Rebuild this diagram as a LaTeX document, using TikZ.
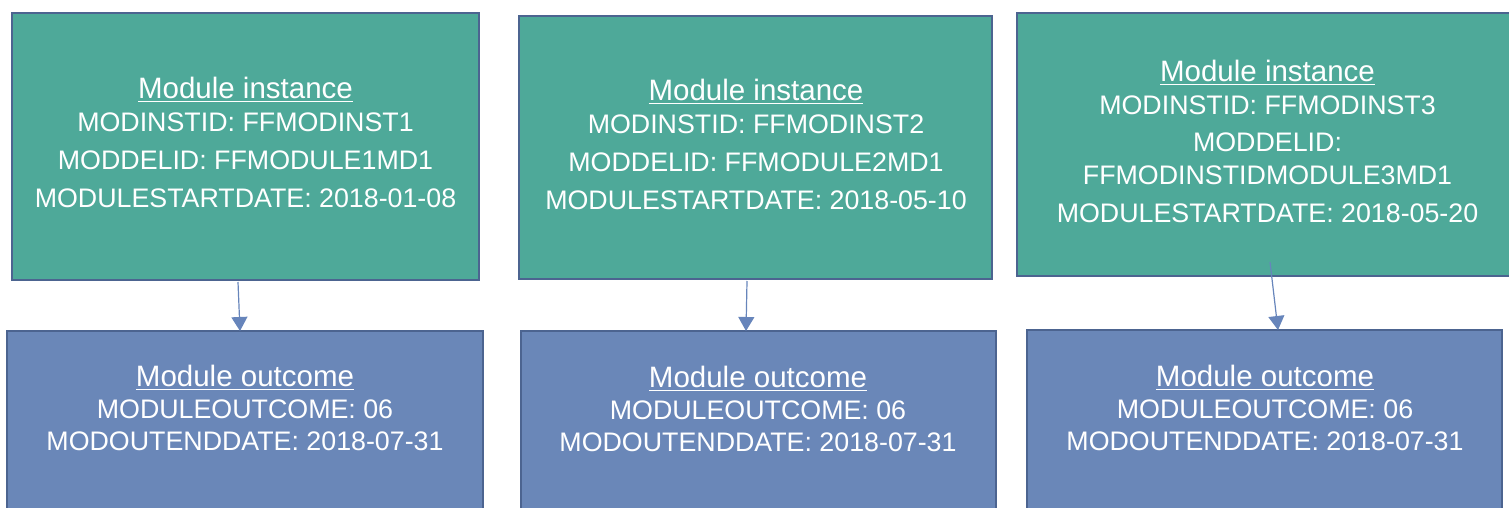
\documentclass[tikz,border=0pt]{standalone}
\usepackage{fontspec}
\setmainfont{Liberation Sans}
\usetikzlibrary{arrows.meta}
\definecolor{teal1}{HTML}{4EA999}
\definecolor{blue1}{HTML}{6A87B8}
\definecolor{edge1}{HTML}{4C6490}
\definecolor{arr1}{HTML}{6785BB}
\newcommand\myul[1]{{\fontsize{29.5}{32.5}\selectfont\setbox0\hbox{#1}\rlap{\rule[-3.5pt]{\wd0}{1.8pt}}\box0}}
\tikzset{
  instbox/.style={draw=edge1,line width=2.2pt,fill=teal1},
  outbox/.style={draw=edge1,line width=2.2pt,fill=blue1},
  boxtext/.style={text=white,align=center,inner sep=0pt,anchor=north,
    font=\fontsize{26.8}{32.5}\selectfont},
  conn/.style={draw=arr1,line width=1.2pt,-{Triangle[width=16pt,length=14pt]}}
}
\begin{document}
\begin{tikzpicture}[x=1pt,y=-1pt]
\useasboundingbox (0,0) rectangle (1509,508);
\clip (0,0) rectangle (1509,508);
% top boxes
\path[instbox] (12,13) rectangle (479,280);
\path[instbox] (519,16) rectangle (992,279);
\path[instbox] (1017,13) rectangle (1530,276);
% bottom boxes
\path[outbox] (7,331) rectangle (483,530);
\path[outbox] (521,331) rectangle (996,530);
\path[outbox] (1027,330) rectangle (1502,530);
% texts
\node[boxtext] (t1) at (245.5,77.3) {\myul{Module instance}\\MODINSTID: FFMODINST1\\[5.5pt]MODDELID: FFMODULE1MD1\\[5.5pt]MODULESTARTDATE: 2018-01-08};
\node[boxtext] (t2) at (756,79.3) {\myul{Module instance}\\MODINSTID: FFMODINST2\\[5.5pt]MODDELID: FFMODULE2MD1\\[5.5pt]MODULESTARTDATE: 2018-05-10};
\node[boxtext] (t3) at (1267.5,60.3) {\myul{Module instance}\\MODINSTID: FFMODINST3\\[5pt]MODDELID:\\FFMODINSTIDMODULE3MD1\\[6pt]MODULESTARTDATE: 2018-05-20};
\node[boxtext,font=\fontsize{26.8}{32}\selectfont] (o1) at (245,365.3) {\myul{Module outcome}\\MODULEOUTCOME: 06\\MODOUTENDDATE: 2018-07-31};
\node[boxtext,font=\fontsize{26.8}{32}\selectfont] (o2) at (758,366.3) {\myul{Module outcome}\\MODULEOUTCOME: 06\\MODOUTENDDATE: 2018-07-31};
\node[boxtext,font=\fontsize{26.8}{32}\selectfont] (o3) at (1265,365.3) {\myul{Module outcome}\\MODULEOUTCOME: 06\\MODOUTENDDATE: 2018-07-31};
% connectors
\coordinate (s1) at (238,282); \coordinate (e1) at (240,331);
\coordinate (s2) at (747,281); \coordinate (e2) at (746,331);
\coordinate (s3) at (1270,262); \coordinate (e3) at (1278,330);
\draw[conn] (s1) -- (e1);
\draw[conn] (s2) -- (e2);
\draw[conn] (s3) -- (e3);
\end{tikzpicture}
\end{document}
